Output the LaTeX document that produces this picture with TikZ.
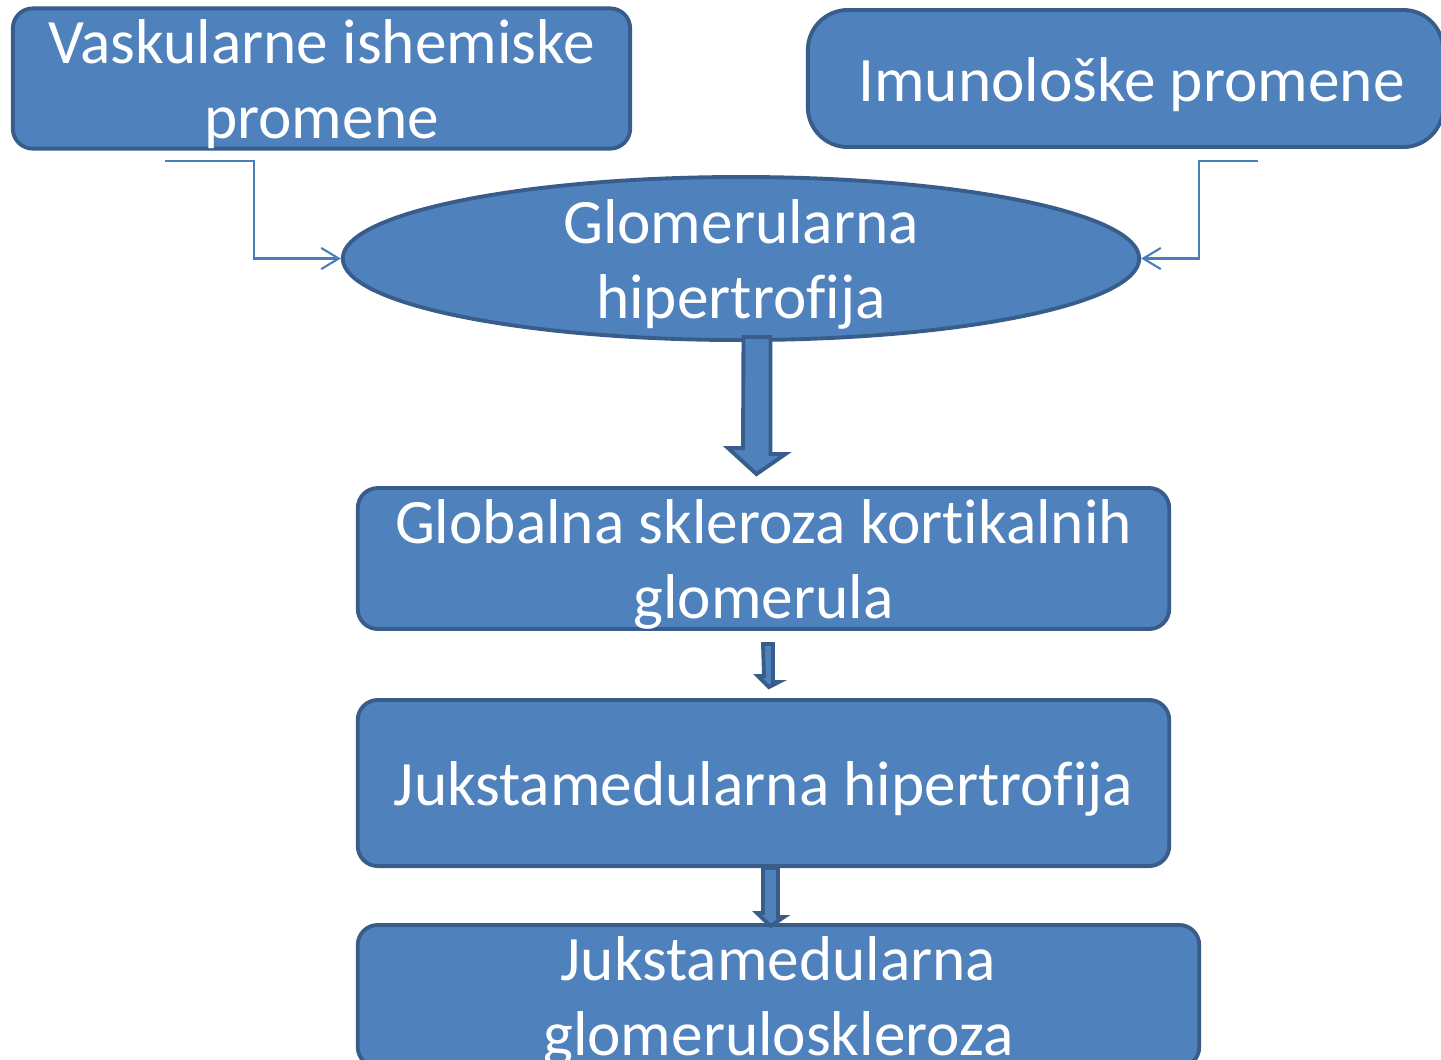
\documentclass[tikz,border=0pt]{standalone}
\usepackage{fontspec}
\setmainfont{Carlito}[Ligatures={NoCommon,NoContextual,NoRequired}]
\usetikzlibrary{arrows.meta,calc,shapes.geometric}
\definecolor{boxfill}{HTML}{4F81BD}
\definecolor{boxline}{HTML}{385D8A}
\definecolor{feedline}{HTML}{4A7EBB}
\newcommand{\lift}{\rule{0pt}{15.7pt}}
\begin{document}
\begin{tikzpicture}[x=0.01cm, y=-0.01cm,
    box/.style={draw=boxline, fill=boxfill, line width=1.1pt, rounded corners=0.2cm,
        text=white, align=center, inner sep=0pt, font=\fontsize{18}{21.3}\selectfont},
    oval/.style={box, ellipse, rounded corners=0pt, inner ysep=-6pt},
    feed/.style={draw=feedline, line width=0.6pt, -{Straight Barb[length=5pt,width=6pt]}},
    fat/.style={draw=boxline, fill=boxfill, line width=1.1pt, line join=miter}]
    \useasboundingbox (0,0) rectangle (1441,1059) ;
    \clip (0,0) rectangle (1441,1059) ;
    % boxes
    \node [box, minimum width=6.17cm, minimum height=1.37cm] (vask) at (321.5,78.5) {\lift Vaskularne ishemiske\\promene} ;
    \node [box, rounded corners=0.4cm, minimum width=6.35cm, minimum height=1.37cm] (imun) at (1125.5,78.5) {\lift\hspace*{0.12cm}Imunološke promene} ;
    \node [oval, minimum width=7.96cm, minimum height=1.63cm] (glom) at (741,258.5) {\lift Glomerularna\\hipertro\kern0ptfija} ;
    \node [box, minimum width=8.11cm, minimum height=1.37cm] (glob) at (763.5,558.5) {\lift Globalna skleroza kort\kern0ptikalnih\\glomerula} ;
    \node [box, minimum width=8.11cm, minimum height=1.66cm] (jukst) at (763.5,783) {\lift Jukstamedularna hipertro\kern0ptfija} ;
    \node [box, minimum width=8.41cm, minimum height=1.42cm] (skler) at (778.5,996) {\lift Jukstamedularna\\glomeruloskleroza} ;
    % thin feeds into the oval
    \coordinate (vaskEnd) at (165,161) ;
    \coordinate (imunEnd) at (1258,161) ;
    \draw [feed] (vaskEnd) -| (254,258.5) -- (glom.west) ;
    \draw [feed] (imunEnd) -| (1199,258.5) -- (glom.east) ;
    % block arrows
    \draw [fat] ($(glom.south)+(2.5,-5)$) -- ++(27,0) -- ++(0,117) -- ++(15,0)
        -- ($(glob.north)+(-7,-12)$) -- ++(-28.5,-26) -- ++(15,0) -- cycle ;
    \draw [fat] ($(glob.south)+(-0.5,13)$) -- ++(10,0) -- ++(0,38) -- ++(6,0)
        -- ($(jukst.north)+(5.5,-11)$) -- ++(-11,-11) -- ++(6,0) -- cycle ;
    \draw [fat] ($(jukst.south)+(-0.5,0)$) -- ++(15,0) -- ++(0,49) -- ++(6,0)
        -- ($(skler.north)+(-8,3)$) -- ++(-13.5,-13) -- ++(6,0) -- cycle ;
\end{tikzpicture}
\end{document}
